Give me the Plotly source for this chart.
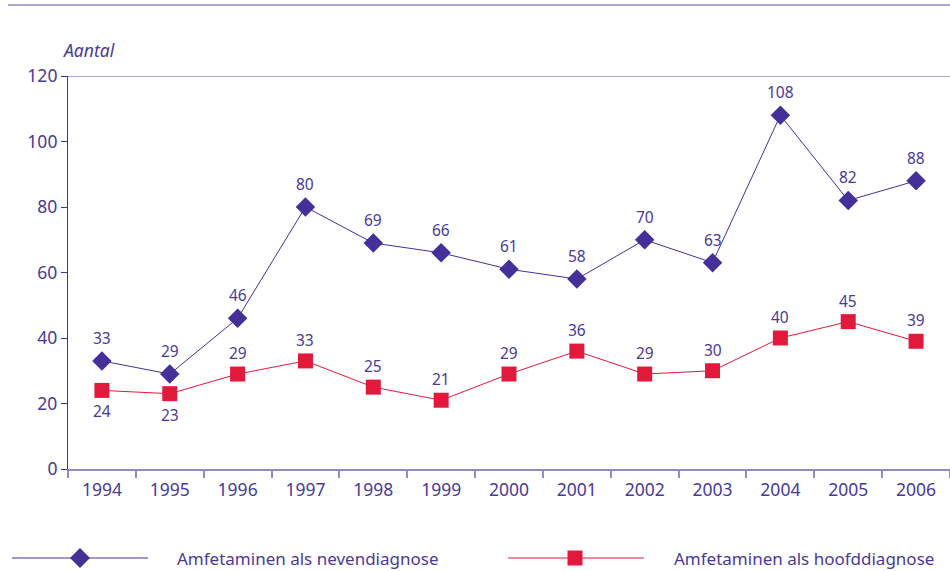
import plotly.graph_objects as go

years = ["1994", "1995", "1996", "1997", "1998", "1999", "2000",
         "2001", "2002", "2003", "2004", "2005", "2006"]
neven = [33, 29, 46, 80, 69, 66, 61, 58, 70, 63, 108, 82, 88]
hoofd = [24, 23, 29, 33, 25, 21, 29, 36, 29, 30, 40, 45, 39]
hoofd_below = [True, True] + [False] * 11
y_ticks = [0, 20, 40, 60, 80, 100, 120]

PURPLE = "#45309a"
TXT = "#4a3a98"
LIGHT = "#9489c6"
RED = "#e3193b"
FONT = "Noto Sans"

W, H = 950, 571
L, R, T, B = 68, 0, 76, 102
PW, PH = W - L - R, H - T - B

def px(x):
    return (x - L) / PW

def py(y):
    return (H - B - y) / PH

fig = go.Figure()
fig.add_trace(go.Scatter(
    x=years, y=hoofd, mode="lines+markers", name="Amfetaminen als hoofddiagnose",
    line=dict(color=RED, width=1),
    marker=dict(symbol="square", size=15, color=RED), cliponaxis=False))
fig.add_trace(go.Scatter(
    x=years, y=neven, mode="lines+markers", name="Amfetaminen als nevendiagnose",
    line=dict(color=PURPLE, width=1),
    marker=dict(symbol="diamond", size=15, color=PURPLE), cliponaxis=False))

shapes = [
    dict(type="line", xref="paper", yref="paper", x0=px(8), x1=px(950), y0=py(5), y1=py(5),
         line=dict(color=LIGHT, width=1.5)),
    dict(type="line", xref="paper", yref="y", x0=0, x1=1, y0=120, y1=120,
         line=dict(color=LIGHT, width=1.5)),
    dict(type="line", xref="paper", yref="paper", x0=px(12), x1=px(148), y0=py(558), y1=py(558),
         line=dict(color=PURPLE, width=1)),
    dict(type="line", xref="paper", yref="paper", x0=px(508), x1=px(644), y0=py(558), y1=py(558),
         line=dict(color=RED, width=1)),
    dict(type="path", xref="paper", yref="paper", xsizemode="pixel", ysizemode="pixel",
         xanchor=px(80), yanchor=py(558), path="M -10 0 L 0 10 L 10 0 L 0 -10 Z",
         fillcolor=PURPLE, line=dict(width=0)),
    dict(type="path", xref="paper", yref="paper", xsizemode="pixel", ysizemode="pixel",
         xanchor=px(575), yanchor=py(558), path="M -7.5 -7.5 L 7.5 -7.5 L 7.5 7.5 L -7.5 7.5 Z",
         fillcolor=RED, line=dict(width=0)),
]

lab_font = dict(family=FONT, size=15.5, color=TXT)
annotations = [
    dict(text="<i>Aantal</i>", xref="paper", yref="paper", x=px(61), y=py(50),
         xanchor="left", yanchor="middle", showarrow=False,
         font=dict(family=FONT, size=17.5, color=TXT)),
    dict(text="Amfetaminen als nevendiagnose", xref="paper", yref="paper", x=px(175), y=py(558),
         xanchor="left", yanchor="middle", showarrow=False,
         font=dict(family=FONT, size=17, color=TXT)),
    dict(text="Amfetaminen als hoofddiagnose", xref="paper", yref="paper", x=px(672), y=py(558),
         xanchor="left", yanchor="middle", showarrow=False,
         font=dict(family=FONT, size=17, color=TXT)),
]
for i, v in enumerate(neven):
    annotations.append(dict(text=str(v), x=i, y=v, xref="x", yref="y", showarrow=False,
                            yshift=23, xanchor="center", yanchor="middle", font=lab_font))
for i, (v, below) in enumerate(zip(hoofd, hoofd_below)):
    annotations.append(dict(text=str(v), x=i, y=v, xref="x", yref="y", showarrow=False,
                            yshift=-21 if below else 21, xanchor="center", yanchor="middle",
                            font=lab_font))

fig.update_layout(
    width=W, height=H, margin=dict(l=L, r=R, t=T, b=B, pad=0),
    paper_bgcolor="white", plot_bgcolor="white", showlegend=False,
    font=dict(family=FONT, size=17, color=TXT),
    shapes=shapes, annotations=annotations,
    xaxis=dict(type="category", range=[-0.5, 12.5], tickson="boundaries",
               showline=True, linecolor=LIGHT, linewidth=1.5,
               ticks="outside", ticklen=7, tickcolor=LIGHT, tickwidth=1.5,
               ticklabelstandoff=4,
               showgrid=False, zeroline=False,
               tickfont=dict(family=FONT, size=17.5, color=TXT)),
    yaxis=dict(range=[0, 120], tickvals=y_ticks, showline=True, linecolor=PURPLE, linewidth=1.2,
               ticks="outside", ticklen=6, tickcolor=PURPLE, tickwidth=1,
               showgrid=False, zeroline=False,
               tickfont=dict(family=FONT, size=17.5, color=TXT)),
)

fig.write_html("out.html", config={"displayModeBar": False},
               post_script="document.body.style.margin='0';")
